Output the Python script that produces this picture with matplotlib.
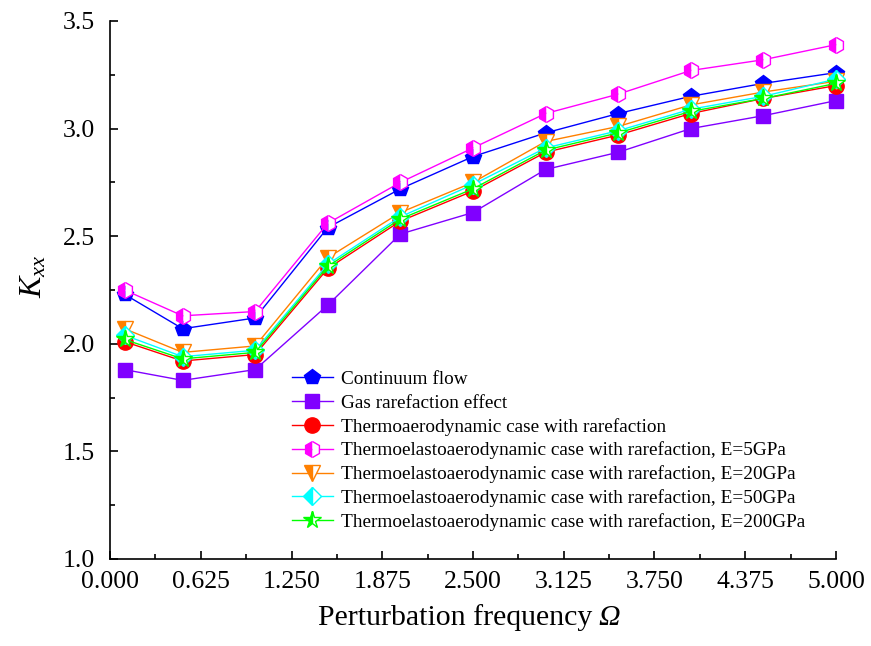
import numpy as np
import matplotlib
matplotlib.use("Agg")
import matplotlib.pyplot as plt

plt.rcParams['font.family'] = ['Liberation Serif', 'DejaVu Serif']
plt.rcParams['mathtext.fontset'] = 'custom'
plt.rcParams['mathtext.rm'] = 'Liberation Serif'
plt.rcParams['mathtext.it'] = 'Liberation Serif:italic'

omega = [0.1, 0.5, 1.0, 1.5, 2.0, 2.5, 3.0, 3.5, 4.0, 4.5, 5.0]

continuum = [2.23, 2.07, 2.12, 2.54, 2.72, 2.87, 2.98, 3.07, 3.15, 3.21, 3.26]
gas_rare = [1.88, 1.83, 1.88, 2.18, 2.51, 2.61, 2.81, 2.89, 3.00, 3.06, 3.13]
thermo_aero = [2.01, 1.92, 1.95, 2.35, 2.57, 2.71, 2.89, 2.97, 3.07, 3.14, 3.20]
e5 = [2.25, 2.13, 2.15, 2.56, 2.75, 2.91, 3.07, 3.16, 3.27, 3.32, 3.39]
e20 = [2.07, 1.96, 1.99, 2.40, 2.61, 2.75, 2.94, 3.01, 3.11, 3.17, 3.22]
e50 = [2.04, 1.94, 1.97, 2.37, 2.59, 2.74, 2.91, 2.99, 3.09, 3.15, 3.23]
e200 = [2.02, 1.93, 1.96, 2.36, 2.58, 2.72, 2.90, 2.98, 3.08, 3.14, 3.21]

labels = ["Continuum flow",
          "Gas rarefaction effect",
          "Thermoaerodynamic case with rarefaction",
          "Thermoelastoaerodynamic case with rarefaction, E=5GPa",
          "Thermoelastoaerodynamic case with rarefaction, E=20GPa",
          "Thermoelastoaerodynamic case with rarefaction, E=50GPa",
          "Thermoelastoaerodynamic case with rarefaction, E=200GPa"]
series = [continuum, gas_rare, thermo_aero, e5, e20, e50, e200]
colors = ['#0000FF', '#8000FF', '#FF0000', '#FF00FF', '#FF8000', '#00FFFF', '#00FF00']
markers = ['p', 's', 'o', 'h', 'v', 'D', '*']
fills = ['full', 'full', 'full', 'left', 'left', 'left', 'left']
msizes = [11.5, 10, 11, 11.5, 11, 9.5, 13]

fig = plt.figure(figsize=(8.71, 6.46), dpi=100)
ax = fig.add_axes([0.1263, 0.1347, 0.8335, 0.8328])

for y, lab, c, m, fs, ms in zip(series, labels, colors, markers, fills, msizes):
    ax.plot(omega, y, color=c, lw=1.0, marker=m, markersize=ms, fillstyle=fs,
            markerfacecolor=c, markerfacecoloralt='white', markeredgecolor=c,
            markeredgewidth=1.0, label=lab, clip_on=False)

ax.set_xlim(0, 5)
ax.set_ylim(1.0, 3.5)
ax.set_xticks(np.arange(0, 5.001, 0.625))
ax.set_xticklabels(['%.3f' % v for v in np.arange(0, 5.001, 0.625)])
ax.set_xticks(np.arange(0.3125, 5, 0.625), minor=True)
ax.set_yticks(np.arange(1.0, 3.51, 0.5))
ax.set_yticklabels(['%.1f' % v for v in np.arange(1.0, 3.51, 0.5)])
ax.set_yticks(np.arange(1.25, 3.5, 0.5), minor=True)

ax.spines['top'].set_visible(False)
ax.spines['right'].set_visible(False)
for s in ['left', 'bottom']:
    ax.spines[s].set_linewidth(1.2)
ax.tick_params(which='major', direction='in', length=6, width=1.2, labelsize=18.5, pad=9)
ax.tick_params(axis='y', which='major', pad=11)
ax.tick_params(which='minor', direction='in', length=3.5, width=1.2)

# x label: upright words + italic Omega
fig.text(592 / 871, 1 - 625 / 646, 'Perturbation frequency', fontsize=21.5,
         ha='right', va='baseline')
fig.text(598 / 871, 1 - 625 / 646, 'Ω', fontsize=21.5, style='italic',
         ha='left', va='baseline')
ax.set_ylabel(r'$K_{xx}$', fontsize=23)
ax.yaxis.set_label_coords(-0.085, 0.525)

ax.legend(loc='upper left', bbox_to_anchor=(0.251, 0.35), frameon=False,
          fontsize=13.9, handlelength=2.1, handletextpad=0.45, labelspacing=0.31,
          borderpad=0, borderaxespad=0)

fig.savefig('out.png', dpi=100)
